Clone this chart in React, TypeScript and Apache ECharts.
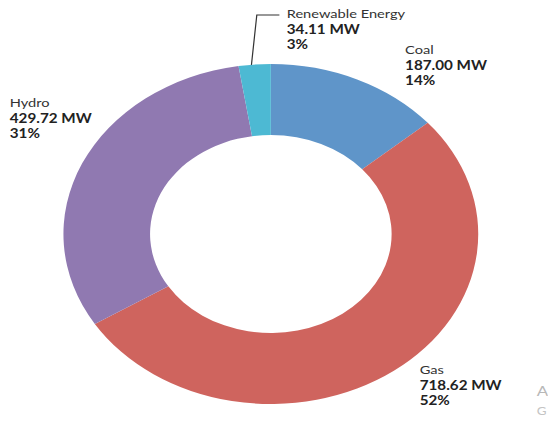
import React, { useEffect, useRef } from "react";
import * as echarts from "echarts";

const categories = ["Coal", "Gas", "Hydro", "Renewable Energy"];
const capacityMW = [187.0, 718.62, 429.72, 34.11];
const sliceColors = ["#5f95c9", "#cf645e", "#9079b1", "#4db9d3"];

const SX = 1.22;
const W = 548 / SX;
const H = 423;

const labelPos = [
  { x: 332, y: 42.5 },
  { x: 344, y: 362.5 },
  { x: 8, y: 95.5 },
  { x: 235, y: 6.5 },
];
const leaderLine = [
  [206, 66],
  [210.5, 15],
  [229, 15],
];

export default function App() {
  const ref = useRef<HTMLDivElement>(null);
  useEffect(() => {
    if (!ref.current) return;
    const chart = echarts.init(ref.current, null, { renderer: "svg" });
    const data = categories.map((name, i) => ({
      name,
      value: capacityMW[i],
      itemStyle: { color: sliceColors[i] },
      labelLine: { show: i === 3, lineStyle: { color: "#333", width: 1 } },
    }));
    chart.setOption({
      animation: false,
      backgroundColor: "#ffffff",
      textStyle: { fontFamily: "Lato" },
      series: [
        {
          type: "pie",
          center: [222, 234],
          radius: [99, 170],
          startAngle: 90,
          clockwise: true,
          percentPrecision: 0,
          avoidLabelOverlap: false,
          silent: true,
          data,
          label: {
            show: true,
            position: "outside",
            formatter: (p: any) =>
              `{n|${p.name}}\n{v|${Number(p.value).toFixed(2)} MW}\n{v|${p.percent}%}`,
            rich: {
              n: { fontSize: 12, lineHeight: 15, color: "#333", fontFamily: "Lato" },
              v: { fontSize: 12.5, lineHeight: 15, color: "#222", fontWeight: "bold", fontFamily: "Lato" },
            },
          },
          labelLine: { show: false },
          labelLayout: (params: any) => {
            const pos = labelPos[params.dataIndex];
            const out: any = { x: pos.x, y: pos.y, align: "left", verticalAlign: "top" };
            if (params.dataIndex === 3) out.labelLinePoints = leaderLine;
            return out;
          },
        },
      ],
      graphic: [
        {
          type: "text",
          left: 440,
          top: 384,
          style: { text: "A", fontSize: 14, fill: "#b8b8b8", fontFamily: "Lato" },
        },
        {
          type: "text",
          left: 440,
          top: 405,
          style: { text: "G", fontSize: 11, fill: "#c4c4c4", fontFamily: "Lato" },
        },
      ],
    });
    return () => chart.dispose();
  }, []);
  return (
    <div
      style={{
        position: "fixed",
        left: 0,
        top: 0,
        width: 548,
        height: H,
        overflow: "hidden",
        background: "#fff",
      }}
    >
      <div
        ref={ref}
        style={{
          width: W,
          height: H,
          transform: `scaleX(${SX})`,
          transformOrigin: "0 0",
        }}
      />
    </div>
  );
}
